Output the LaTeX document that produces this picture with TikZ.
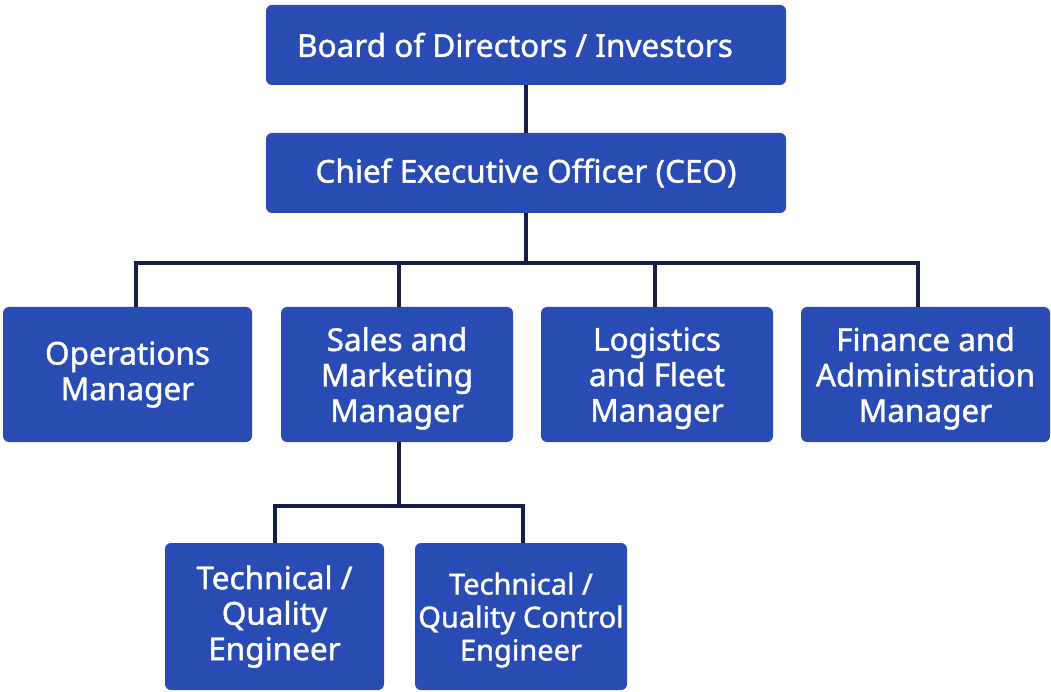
\documentclass[tikz,border=0pt]{standalone}
\usepackage{fontspec}
\setmainfont{Noto Sans}
\newfontfamily\rolefont{Noto Sans}[FakeBold=1.3]
\definecolor{boxblue}{RGB}{40,76,180}
\definecolor{linknavy}{RGB}{22,30,72}
\begin{document}
\begin{tikzpicture}[x=1pt,y=-1pt,
  role/.style={draw=none,fill=boxblue,rounded corners=6pt,text=white,
    align=center,inner sep=0pt,
    font=\rolefont\fontsize{31.5}{35.5}\selectfont},
  smallrole/.style={role,font=\rolefont\fontsize{29}{33}\selectfont},
  lowtext/.style={text depth=0pt},
  link/.style={draw=linknavy,line width=3.6pt}]
\useasboundingbox (0,0) rectangle (1051,692);

% top levels
\node[role,minimum width=520pt,minimum height=80pt] (board) at (526,45) {\hspace*{-22pt}Board of Directors / Investors};
\node[role,minimum width=520pt,minimum height=80pt] (ceo) at (526,173) {Chief Executive Officer (CEO)};

% managers
\node[role,minimum width=249pt,minimum height=135pt] (ops) at (127.5,374.5) {Operations\\Manager};
\node[role,lowtext,minimum width=232pt,minimum height=135pt] (sales) at (397,374.5) {Sales and\\Marketing\\Manager};
\node[role,lowtext,minimum width=232pt,minimum height=135pt] (log) at (657,374.5) {Logistics\\and Fleet\\Manager};
\node[role,lowtext,minimum width=249pt,minimum height=135pt] (fin) at (925.5,374.5) {Finance and\\Administration\\Manager};

% engineers
\node[role,minimum width=219pt,minimum height=147pt] (tq) at (274.5,616.5) {Technical /\\Quality\\Engineer};
\node[smallrole,lowtext,minimum width=212pt,minimum height=147pt] (tqc) at (521,616.5) {Technical /\\Quality Control\\Engineer};

% connectors
\coordinate (bus) at (526,263);
\coordinate (ebus) at (399,506);
\draw[link] (board.south) -- (ceo.north);
\draw[link] (ceo.south) -- (bus);
\draw[link] (ops.north -| 136,0) -- (136,263) -- (918,263) -- (fin.north -| 918,0);
\draw[link] (sales.north -| 399,0) -- (399,263);
\draw[link] (log.north -| 655,0) -- (655,263);
\draw[link] (sales.south -| 399,0) -- (ebus);
\draw[link] (tq.north -| 275,0) -- (275,506) -- (523,506) -- (tqc.north -| 523,0);
\end{tikzpicture}
\end{document}
